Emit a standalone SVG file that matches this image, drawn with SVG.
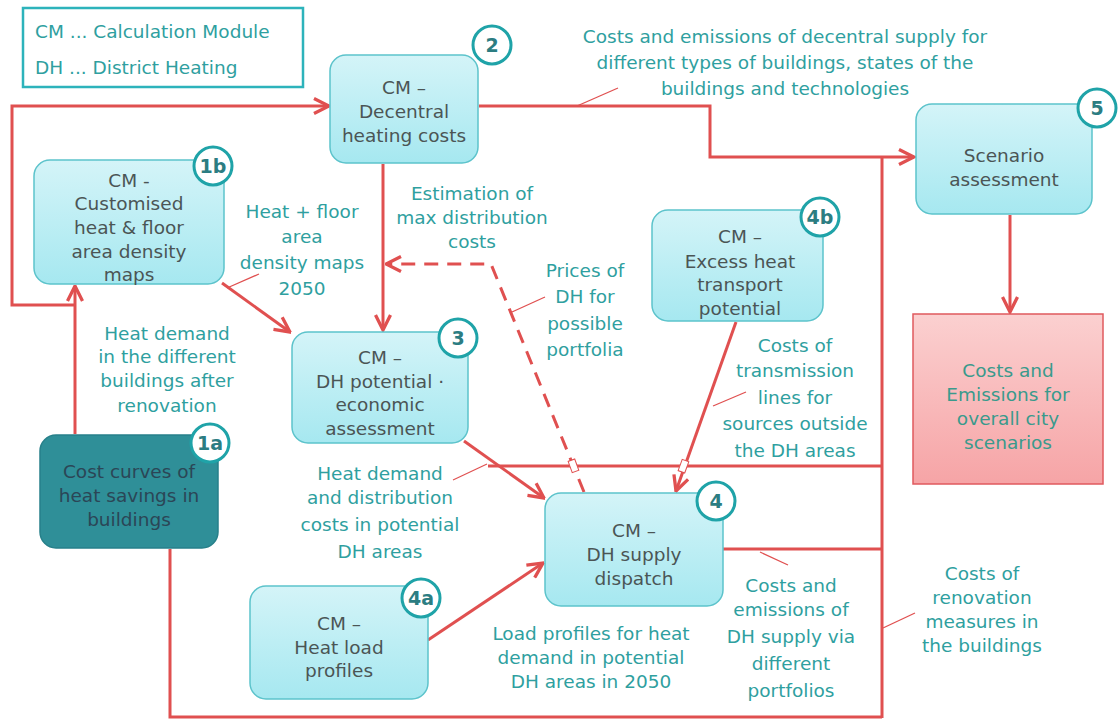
<svg xmlns="http://www.w3.org/2000/svg" width="1120" height="720" viewBox="0 0 1120 720">
<style>
.node{fill:url(#cyan);stroke:#5cc3cb;stroke-width:1.5}
.nt{font-family:"DejaVu Sans","Liberation Sans",sans-serif;font-size:18.5px;fill:#4b5555;text-anchor:middle}
.lb{font-family:"DejaVu Sans","Liberation Sans",sans-serif;font-size:18.5px;fill:#2f9fa0;text-anchor:middle}
.badge{fill:#fff;stroke:#1fa3a8;stroke-width:3}
.bt{font-family:"DejaVu Sans","Liberation Sans",sans-serif;font-size:19px;font-weight:bold;fill:#2c7d82;text-anchor:middle}
.c{fill:none;stroke:#e05050;stroke-width:3}
.ca{fill:none;stroke:#e05050;stroke-width:3;marker-end:url(#ah)}
.ld{fill:none;stroke:#e05050;stroke-width:1.3}
</style>
<defs>
<linearGradient id="cyan" x1="0" y1="0" x2="0" y2="1">
<stop offset="0" stop-color="#d4f4f8"/><stop offset="1" stop-color="#a6e8f0"/>
</linearGradient>
<linearGradient id="pink" x1="0" y1="0" x2="0" y2="1">
<stop offset="0" stop-color="#fbd0d0"/><stop offset="1" stop-color="#f6a4a6"/>
</linearGradient>
<marker id="ah" viewBox="0 0 12 12" refX="11" refY="6" markerWidth="6" markerHeight="6" orient="auto" markerUnits="strokeWidth">
<path d="M1,1 L11,6 L1,11" fill="none" stroke="#e05050" stroke-width="2.2"/>
</marker>
</defs>
<rect width="1120" height="720" fill="#fff"/>

<g id="legend">
<rect x="23" y="8" width="280" height="79" fill="#fff" stroke="#2db3bb" stroke-width="2.5"/>
<text class="lb" x="35" y="38" style="text-anchor:start">CM ... Calculation Module</text>
<text class="lb" x="35" y="74" style="text-anchor:start">DH ... District Heating</text>
</g>

<g id="connectors">
<polyline class="c" points="75,305 12,305 12,106 180,106"/>
<polyline class="ca" points="180,106 329,106"/>
<polyline class="c" points="479,106 710,106 710,157 800,157"/>
<polyline class="ca" points="800,157 914,157"/>
<line class="ca" x1="75" y1="434" x2="75" y2="286"/>
<line class="ca" x1="383" y1="164" x2="383" y2="330"/>
<line class="ca" x1="222" y1="283" x2="290" y2="332"/>
<line class="ca" x1="464" y1="441" x2="544" y2="498"/>
<line class="ca" x1="736" y1="322" x2="676" y2="491"/>
<line class="ca" x1="428" y1="640" x2="543" y2="563"/>
<line class="ca" x1="1010" y1="215" x2="1010" y2="312"/>
<polyline class="ca" points="584,492 491,264 386,264" style="stroke-dasharray:14,9"/>
<polyline class="c" points="488,466 882,466"/>
<polyline class="c" points="723,549 882,549"/>
<polyline class="c" points="882,157 882,718"/>
<polyline class="c" points="170,549 170,717 882,717"/>
<rect x="570" y="460" width="7" height="12" fill="#fff" stroke="#e05050" stroke-width="1" transform="rotate(-20 573 466)"/>
<rect x="680" y="460" width="7" height="12" fill="#fff" stroke="#e05050" stroke-width="1" transform="rotate(20 683 466)"/>
<line class="ld" x1="577" y1="106" x2="618" y2="88"/>
<line class="ld" x1="227" y1="288" x2="259" y2="274"/>
<line class="ld" x1="512" y1="312" x2="545" y2="297"/>
<line class="ld" x1="453" y1="480" x2="487" y2="464"/>
<line class="ld" x1="713" y1="406" x2="746" y2="392"/>
<line class="ld" x1="760" y1="552" x2="788" y2="565"/>
<line class="ld" x1="883" y1="628" x2="915" y2="613"/>
</g>

<g id="n2">
<rect class="node" x="330" y="55" width="148" height="108" rx="16"/>
<text class="nt" x="404" y="94">CM –</text>
<text class="nt" x="404" y="118">Decentral</text>
<text class="nt" x="404" y="142">heating costs</text>
<circle class="badge" cx="492" cy="45" r="19"/><text class="bt" x="492" y="52">2</text>
</g>

<g id="n1b">
<rect class="node" x="34" y="160" width="190" height="124" rx="16"/>
<text class="nt" x="129" y="187">CM -</text>
<text class="nt" x="129" y="210">Customised</text>
<text class="nt" x="129" y="234">heat &amp; floor</text>
<text class="nt" x="129" y="258">area density</text>
<text class="nt" x="129" y="281">maps</text>
<circle class="badge" cx="213" cy="166" r="19"/><text class="bt" x="213" y="173">1b</text>
</g>

<g id="n3">
<rect class="node" x="292" y="332" width="176" height="111" rx="16"/>
<text class="nt" x="380" y="364">CM –</text>
<text class="nt" x="380" y="388">DH potential ·</text>
<text class="nt" x="380" y="411">economic</text>
<text class="nt" x="380" y="435">assessment</text>
<circle class="badge" cx="458" cy="338" r="19"/><text class="bt" x="458" y="345">3</text>
</g>

<g id="n1a">
<rect x="40" y="435" width="178" height="113" rx="16" fill="#2f8f98" stroke="#27808a" stroke-width="1.5"/>
<text class="nt" x="129" y="478" style="fill:#2b4656">Cost curves of</text>
<text class="nt" x="129" y="502" style="fill:#2b4656">heat savings in</text>
<text class="nt" x="129" y="526" style="fill:#2b4656">buildings</text>
<circle class="badge" cx="210" cy="443" r="19"/><text class="bt" x="210" y="450">1a</text>
</g>

<g id="n4">
<rect class="node" x="545" y="493" width="178" height="113" rx="16"/>
<text class="nt" x="634" y="537">CM –</text>
<text class="nt" x="634" y="561">DH supply</text>
<text class="nt" x="634" y="585">dispatch</text>
<circle class="badge" cx="716" cy="501" r="19"/><text class="bt" x="716" y="508">4</text>
</g>

<g id="n4a">
<rect class="node" x="250" y="586" width="178" height="113" rx="16"/>
<text class="nt" x="339" y="630">CM –</text>
<text class="nt" x="339" y="654">Heat load</text>
<text class="nt" x="339" y="677">profiles</text>
<circle class="badge" cx="421" cy="598" r="19"/><text class="bt" x="421" y="605">4a</text>
</g>

<g id="n4b">
<rect class="node" x="652" y="210" width="171" height="111" rx="16"/>
<text class="nt" x="740" y="243">CM –</text>
<text class="nt" x="740" y="268">Excess heat</text>
<text class="nt" x="740" y="291">transport</text>
<text class="nt" x="740" y="315">potential</text>
<circle class="badge" cx="820" cy="217" r="19"/><text class="bt" x="820" y="224">4b</text>
</g>

<g id="n5">
<rect class="node" x="916" y="104" width="176" height="110" rx="16"/>
<text class="nt" x="1004" y="162">Scenario</text>
<text class="nt" x="1004" y="186">assessment</text>
<circle class="badge" cx="1097" cy="108" r="19"/><text class="bt" x="1097" y="115">5</text>
</g>

<g id="result">
<rect x="913" y="314" width="190" height="170" fill="url(#pink)" stroke="#e05a5e" stroke-width="1.5"/>
<text class="lb" x="1008" y="377" style="fill:#3a9a8c">Costs and</text>
<text class="lb" x="1008" y="401" style="fill:#3a9a8c">Emissions for</text>
<text class="lb" x="1008" y="425" style="fill:#3a9a8c">overall city</text>
<text class="lb" x="1008" y="449" style="fill:#3a9a8c">scenarios</text>
</g>

<g id="labels">
<text class="lb" x="785" y="43">Costs and emissions of decentral supply for</text>
<text class="lb" x="785" y="69">different types of buildings, states of the</text>
<text class="lb" x="785" y="95">buildings and technologies</text>
<text class="lb" x="302" y="218">Heat + floor</text>
<text class="lb" x="302" y="243">area</text>
<text class="lb" x="302" y="269">density maps</text>
<text class="lb" x="302" y="295">2050</text>
<text class="lb" x="472" y="200">Estimation of</text>
<text class="lb" x="472" y="224">max distribution</text>
<text class="lb" x="472" y="248">costs</text>
<text class="lb" x="585" y="277">Prices of</text>
<text class="lb" x="585" y="303">DH for</text>
<text class="lb" x="585" y="330">possible</text>
<text class="lb" x="585" y="356">portfolia</text>
<text class="lb" x="167" y="340">Heat demand</text>
<text class="lb" x="167" y="363">in the different</text>
<text class="lb" x="167" y="387">buildings after</text>
<text class="lb" x="167" y="412">renovation</text>
<text class="lb" x="795" y="352">Costs of</text>
<text class="lb" x="795" y="377">transmission</text>
<text class="lb" x="795" y="404">lines for</text>
<text class="lb" x="795" y="430">sources outside</text>
<text class="lb" x="795" y="457">the DH areas</text>
<text class="lb" x="380" y="480">Heat demand</text>
<text class="lb" x="380" y="504">and distribution</text>
<text class="lb" x="380" y="531">costs in potential</text>
<text class="lb" x="380" y="558">DH areas</text>
<text class="lb" x="591" y="640">Load profiles for heat</text>
<text class="lb" x="591" y="664">demand in potential</text>
<text class="lb" x="591" y="688">DH areas in 2050</text>
<text class="lb" x="791" y="592">Costs and</text>
<text class="lb" x="791" y="616">emissions of</text>
<text class="lb" x="791" y="643">DH supply via</text>
<text class="lb" x="791" y="670">different</text>
<text class="lb" x="791" y="697">portfolios</text>
<text class="lb" x="982" y="580">Costs of</text>
<text class="lb" x="982" y="604">renovation</text>
<text class="lb" x="982" y="628">measures in</text>
<text class="lb" x="982" y="652">the buildings</text>
</g>
</svg>
